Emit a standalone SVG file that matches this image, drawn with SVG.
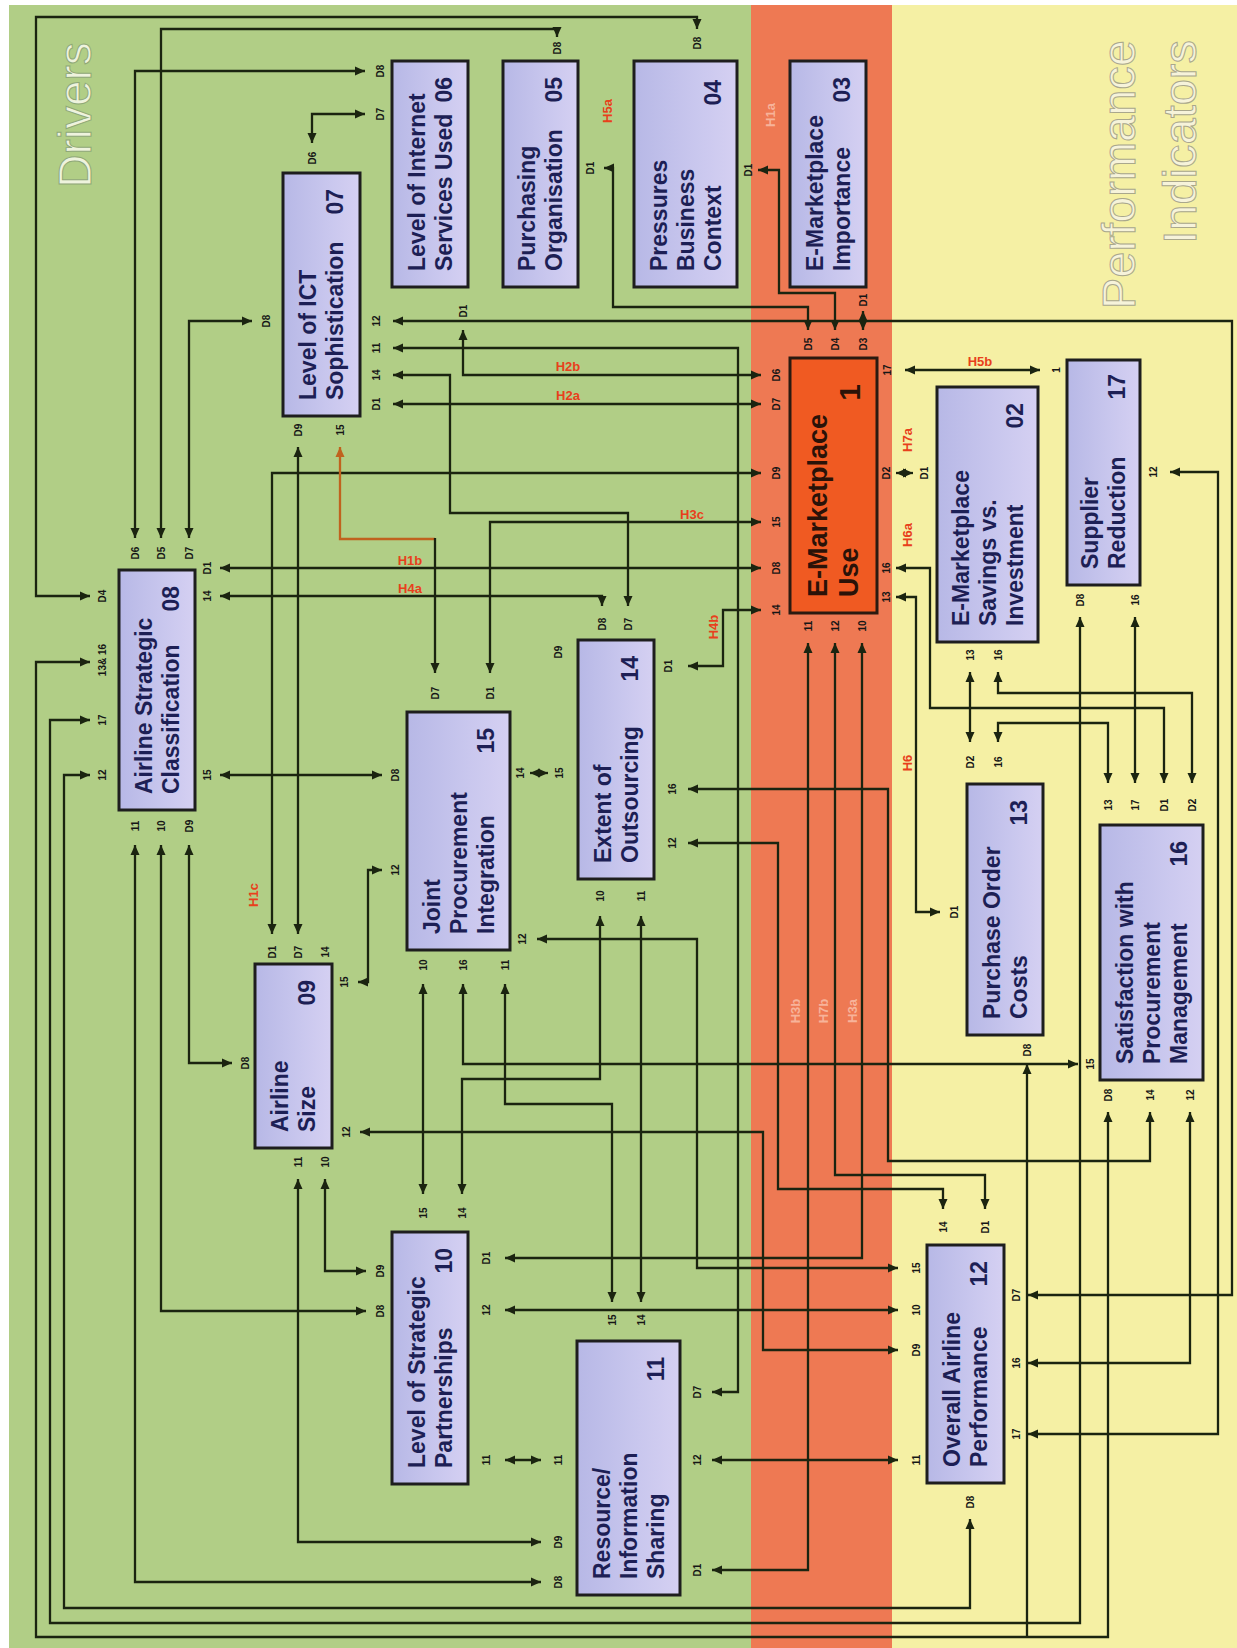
<svg xmlns="http://www.w3.org/2000/svg" width="1237" height="1648" viewBox="0 0 1237 1648">
<style>
.bgG{fill:#b1ce86}.bgO{fill:#ee7953}.bgY{fill:#f5f0a4}
.box{fill:url(#lav);stroke:#1e1e1e;stroke-width:3}
.boxR{fill:#f05a22;stroke:#2a1a10;stroke-width:3}
.t{font-family:"Liberation Sans",Arial,sans-serif;font-weight:bold;font-size:23px;fill:#1d1f55;dominant-baseline:central}
.tr{font-family:"Liberation Sans",Arial,sans-serif;font-weight:bold;font-size:27px;fill:#2a1208;dominant-baseline:central}
.e{text-anchor:end}
.p{font-family:"Liberation Sans",Arial,sans-serif;font-weight:bold;font-size:10px;fill:#161616;text-anchor:middle;dominant-baseline:central}
.h{font-family:"Liberation Sans",Arial,sans-serif;font-weight:bold;font-size:13px;fill:#e8401c;text-anchor:middle}
.hr{font-family:"Liberation Sans",Arial,sans-serif;font-weight:bold;font-size:13px;fill:#e8401c;text-anchor:middle;dominant-baseline:central}
.hp{fill:#f7b39a}
.big{font-family:"Liberation Sans",Arial,sans-serif;font-size:46px;fill:#eef3dd;stroke:#8fa877;stroke-width:1}
.bigY{font-family:"Liberation Sans",Arial,sans-serif;font-size:47px;fill:#f6f3da;stroke:#a9a78c;stroke-width:1}
.c{fill:none;stroke:#1b2410;stroke-width:2.3;marker-start:url(#ah);marker-end:url(#ah)}
.c1{fill:none;stroke:#1b2410;stroke-width:2.3;marker-end:url(#ah)}
.co{fill:none;stroke:#c0621e;stroke-width:2.3;marker-start:url(#aho)}
</style>
<defs>
<linearGradient id="lav" x1="0" y1="0" x2="1" y2="0">
<stop offset="0" stop-color="#b7b8e6"/><stop offset="0.6" stop-color="#c9c7ee"/><stop offset="1" stop-color="#d5d0f2"/>
</linearGradient>
<marker id="ah" viewBox="0 0 10 10" refX="10" refY="5" markerWidth="10" markerHeight="10" markerUnits="userSpaceOnUse" orient="auto-start-reverse"><path d="M0,0.5 L10,5 L0,9.5 z" fill="#1b2410"/></marker>
<marker id="aho" viewBox="0 0 10 10" refX="10" refY="5" markerWidth="10" markerHeight="10" markerUnits="userSpaceOnUse" orient="auto-start-reverse"><path d="M0,0.5 L10,5 L0,9.5 z" fill="#c0621e"/></marker>
</defs>

<g id="background">
<rect x="0" y="0" width="1237" height="1648" fill="#ffffff"/>
<rect class="bgG" x="9" y="5" width="742" height="1643"/>
<rect class="bgO" x="751" y="5" width="141" height="1643"/>
<rect class="bgY" x="892" y="5" width="345" height="1643"/>
<text class="big" text-anchor="middle" transform="rotate(-90 91 115)" x="91" y="115">Drivers</text>
<text class="bigY" text-anchor="end" transform="rotate(-90 1135 40)" x="1135" y="40">Performance</text>
<text class="bigY" text-anchor="end" transform="rotate(-90 1196 40)" x="1196" y="40">Indicators</text>
</g>

<g id="connectors">
<path class="c" d="M90,596 H36 V17 H697 V29"/>
<path class="c" d="M161,538 V29 H557 V37"/>
<path class="c" d="M135,538 V71 H365"/>
<path class="c" d="M312,143 V114 H365"/>
<path class="c" d="M189,538 V321 H252"/>
<path class="c" d="M393,321 H1232 V1295 H1028"/>
<path class="c" d="M393,348 H738 V1392 H712"/>
<path class="c" d="M393,375 H450 V513 H628 V606"/>
<path class="c" d="M393,404 H761"/>
<path class="c" d="M463,330 V375 H761"/>
<path class="c" d="M761,473 H272 V934"/>
<path class="c" d="M298,447 V934"/>
<path class="co" d="M340,447 V539 H435"/>
<path class="c1" d="M435,538 V673"/>
<path class="c" d="M220,568 H761"/>
<path class="c" d="M220,596 H602 V606"/>
<path class="c" d="M220,775 H382"/>
<path class="c" d="M189,845 V1063 H232"/>
<path class="c" d="M161,845 V1311 H366"/>
<path class="c" d="M135,845 V1582 H541"/>
<path class="c" d="M298,1179 V1542 H541"/>
<path class="c" d="M325,1179 V1271 H366"/>
<path class="c" d="M360,1132 H763 V1350 H898"/>
<path class="c" d="M358,982 H368 V870 H382"/>
<path class="c" d="M761,522 H490 V673"/>
<path class="c" d="M761,610 H723 V666 H688"/>
<path class="c" d="M530,773 H548"/>
<path class="c" d="M537,939 H697 V1268 H898"/>
<path class="c" d="M423,984 V1194"/>
<path class="c" d="M463,984 V1064 H1078"/>
<path class="c" d="M505,984 V1104 H612 V1302"/>
<path class="c" d="M600,916 V1079 H462 V1194"/>
<path class="c" d="M641,916 V1302"/>
<path class="c" d="M688,789 H888 V1161 H1150 V1112"/>
<path class="c" d="M688,843 H778 V1189 H943 V1209"/>
<path class="c" d="M808,643 V1570 H712"/>
<path class="c" d="M835,643 V1175 H985 V1209"/>
<path class="c" d="M862,643 V1258 H505"/>
<path class="c" d="M505,1310 H898"/>
<path class="c" d="M712,1460 H898"/>
<path class="c" d="M505,1460 H541"/>
<path class="c" d="M90,775 H64 V1608 H970 V1519"/>
<path class="c" d="M90,720 H50 V1623 H1080 V617"/>
<path class="c" d="M90,662 H36 V1637 H1108 V1112"/>
<path class="c1" d="M1027,1637 V1064"/>
<path class="c" d="M1190,1112 V1363 H1028"/>
<path class="c" d="M905,370 H1040"/>
<path class="c" d="M896,473 H913"/>
<path class="c" d="M896,568 H930 V708 H1164 V783"/>
<path class="c" d="M896,597 H916 V912 H940"/>
<path class="c" d="M970,672 V742"/>
<path class="c" d="M998,672 V693 H1192 V783"/>
<path class="c" d="M998,742 V723 H1108 V783"/>
<path class="c" d="M1135,617 V783"/>
<path class="c" d="M1170,472 H1218 V1434 H1028"/>
<path class="c" d="M758,170 H779 V293 H835 V330"/>
<path class="c" d="M604,168 H613 V307 H808 V330"/>
<path class="c" d="M863,311 V330"/>
</g>

<g id="n06"><rect class="box" x="392" y="61" width="76" height="226"/>
<text class="t" x="416.5" y="271" transform="rotate(-90 416.5 271)">Level of Internet</text>
<text class="t" x="443.5" y="271" transform="rotate(-90 443.5 271)">Services Used</text>
<text class="t e" x="443.5" y="77" transform="rotate(-90 443.5 77)">06</text></g>
<g id="n05"><rect class="box" x="503" y="61" width="75" height="226"/>
<text class="t" x="527" y="271" transform="rotate(-90 527 271)">Purchasing</text>
<text class="t" x="554" y="271" transform="rotate(-90 554 271)">Organisation</text>
<text class="t e" x="554" y="77" transform="rotate(-90 554 77)">05</text></g>
<g id="n04"><rect class="box" x="634" y="61" width="103" height="226"/>
<text class="t" x="658.5" y="271" transform="rotate(-90 658.5 271)">Pressures</text>
<text class="t" x="685.5" y="271" transform="rotate(-90 685.5 271)">Business</text>
<text class="t" x="712.5" y="271" transform="rotate(-90 712.5 271)">Context</text>
<text class="t e" x="712.5" y="80" transform="rotate(-90 712.5 80)">04</text></g>
<g id="n03"><rect class="box" x="790" y="61" width="76" height="226"/>
<text class="t" x="814.5" y="271" transform="rotate(-90 814.5 271)">E-Marketplace</text>
<text class="t" x="841.5" y="271" transform="rotate(-90 841.5 271)">Importance</text>
<text class="t e" x="841.5" y="77" transform="rotate(-90 841.5 77)">03</text></g>
<g id="n07"><rect class="box" x="283" y="173" width="77" height="243"/>
<text class="t" x="308" y="400" transform="rotate(-90 308 400)">Level of ICT</text>
<text class="t" x="335" y="400" transform="rotate(-90 335 400)">Sophistication</text>
<text class="t e" x="335" y="189" transform="rotate(-90 335 189)">07</text></g>
<g id="n01"><rect class="boxR" x="790" y="358" width="87" height="255"/>
<text class="tr" x="818" y="597" transform="rotate(-90 818 597)">E-Marketplace</text>
<text class="tr" x="849" y="597" transform="rotate(-90 849 597)">Use</text>
<text class="tr e" style="font-size:30px" x="849" y="384" transform="rotate(-90 849 384)">1</text></g>
<g id="n02"><rect class="box" x="937" y="387" width="101" height="255"/>
<text class="t" x="960.5" y="626" transform="rotate(-90 960.5 626)">E-Marketplace</text>
<text class="t" x="987.5" y="626" transform="rotate(-90 987.5 626)">Savings vs.</text>
<text class="t" x="1014.5" y="626" transform="rotate(-90 1014.5 626)">Investment</text>
<text class="t e" x="1014.5" y="403" transform="rotate(-90 1014.5 403)">02</text></g>
<g id="n17"><rect class="box" x="1067" y="360" width="73" height="225"/>
<text class="t" x="1090" y="569" transform="rotate(-90 1090 569)">Supplier</text>
<text class="t" x="1117" y="569" transform="rotate(-90 1117 569)">Reduction</text>
<text class="t e" x="1117" y="374" transform="rotate(-90 1117 374)">17</text></g>
<g id="n08"><rect class="box" x="119" y="570" width="76" height="240"/>
<text class="t" x="143.5" y="794" transform="rotate(-90 143.5 794)">Airline Strategic</text>
<text class="t" x="170.5" y="794" transform="rotate(-90 170.5 794)">Classification</text>
<text class="t e" x="170.5" y="586" transform="rotate(-90 170.5 586)">08</text></g>
<g id="n15"><rect class="box" x="407" y="712" width="103" height="238"/>
<text class="t" x="431.5" y="934" transform="rotate(-90 431.5 934)">Joint</text>
<text class="t" x="458.5" y="934" transform="rotate(-90 458.5 934)">Procurement</text>
<text class="t" x="485.5" y="934" transform="rotate(-90 485.5 934)">Integration</text>
<text class="t e" x="485.5" y="728" transform="rotate(-90 485.5 728)">15</text></g>
<g id="n14"><rect class="box" x="578" y="640" width="76" height="239"/>
<text class="t" x="602.5" y="863" transform="rotate(-90 602.5 863)">Extent of</text>
<text class="t" x="629.5" y="863" transform="rotate(-90 629.5 863)">Outsourcing</text>
<text class="t e" x="629.5" y="656" transform="rotate(-90 629.5 656)">14</text></g>
<g id="n13"><rect class="box" x="967" y="784" width="76" height="251"/>
<text class="t" x="991.5" y="1019" transform="rotate(-90 991.5 1019)">Purchase Order</text>
<text class="t" x="1018.5" y="1019" transform="rotate(-90 1018.5 1019)">Costs</text>
<text class="t e" x="1018.5" y="800" transform="rotate(-90 1018.5 800)">13</text></g>
<g id="n16"><rect class="box" x="1100" y="825" width="103" height="255"/>
<text class="t" x="1124.5" y="1064" transform="rotate(-90 1124.5 1064)">Satisfaction with</text>
<text class="t" x="1151.5" y="1064" transform="rotate(-90 1151.5 1064)">Procurement</text>
<text class="t" x="1178.5" y="1064" transform="rotate(-90 1178.5 1064)">Management</text>
<text class="t e" x="1178.5" y="841" transform="rotate(-90 1178.5 841)">16</text></g>
<g id="n09"><rect class="box" x="255" y="964" width="77" height="184"/>
<text class="t" x="280" y="1132" transform="rotate(-90 280 1132)">Airline</text>
<text class="t" x="307" y="1132" transform="rotate(-90 307 1132)">Size</text>
<text class="t e" x="307" y="980" transform="rotate(-90 307 980)">09</text></g>
<g id="n10"><rect class="box" x="392" y="1232" width="76" height="252"/>
<text class="t" x="416.5" y="1468" transform="rotate(-90 416.5 1468)">Level of Strategic</text>
<text class="t" x="443.5" y="1468" transform="rotate(-90 443.5 1468)">Partnerships</text>
<text class="t e" x="443.5" y="1248" transform="rotate(-90 443.5 1248)">10</text></g>
<g id="n11"><rect class="box" x="577" y="1341" width="103" height="254"/>
<text class="t" x="601.5" y="1579" transform="rotate(-90 601.5 1579)">Resource/</text>
<text class="t" x="628.5" y="1579" transform="rotate(-90 628.5 1579)">Information</text>
<text class="t" x="655.5" y="1579" transform="rotate(-90 655.5 1579)">Sharing</text>
<text class="t e" x="655.5" y="1357" transform="rotate(-90 655.5 1357)">11</text></g>
<g id="n12"><rect class="box" x="927" y="1245" width="77" height="238"/>
<text class="t" x="952" y="1467" transform="rotate(-90 952 1467)">Overall Airline</text>
<text class="t" x="979" y="1467" transform="rotate(-90 979 1467)">Performance</text>
<text class="t e" x="979" y="1261" transform="rotate(-90 979 1261)">12</text></g>

<g id="port-labels">
<text class="p" x="135" y="553" transform="rotate(-90 135 553)">D6</text>
<text class="p" x="161" y="553" transform="rotate(-90 161 553)">D5</text>
<text class="p" x="189" y="553" transform="rotate(-90 189 553)">D7</text>
<text class="p" x="102" y="596" transform="rotate(-90 102 596)">D4</text>
<text class="p" x="102" y="660" transform="rotate(-90 102 660)">13&amp; 16</text>
<text class="p" x="102" y="720" transform="rotate(-90 102 720)">17</text>
<text class="p" x="102" y="775" transform="rotate(-90 102 775)">12</text>
<text class="p" x="207" y="568" transform="rotate(-90 207 568)">D1</text>
<text class="p" x="207" y="596" transform="rotate(-90 207 596)">14</text>
<text class="p" x="207" y="775" transform="rotate(-90 207 775)">15</text>
<text class="p" x="135" y="826" transform="rotate(-90 135 826)">11</text>
<text class="p" x="161" y="826" transform="rotate(-90 161 826)">10</text>
<text class="p" x="189" y="826" transform="rotate(-90 189 826)">D9</text>
<text class="p" x="380" y="71" transform="rotate(-90 380 71)">D8</text>
<text class="p" x="380" y="114" transform="rotate(-90 380 114)">D7</text>
<text class="p" x="463" y="311" transform="rotate(-90 463 311)">D1</text>
<text class="p" x="312" y="158" transform="rotate(-90 312 158)">D6</text>
<text class="p" x="266" y="321" transform="rotate(-90 266 321)">D8</text>
<text class="p" x="376" y="321" transform="rotate(-90 376 321)">12</text>
<text class="p" x="376" y="348" transform="rotate(-90 376 348)">11</text>
<text class="p" x="376" y="375" transform="rotate(-90 376 375)">14</text>
<text class="p" x="376" y="404" transform="rotate(-90 376 404)">D1</text>
<text class="p" x="298" y="430" transform="rotate(-90 298 430)">D9</text>
<text class="p" x="340" y="430" transform="rotate(-90 340 430)">15</text>
<text class="p" x="557" y="48" transform="rotate(-90 557 48)">D8</text>
<text class="p" x="590" y="168" transform="rotate(-90 590 168)">D1</text>
<text class="p" x="697" y="43" transform="rotate(-90 697 43)">D8</text>
<text class="p" x="748" y="170" transform="rotate(-90 748 170)">D1</text>
<text class="p" x="863" y="300" transform="rotate(-90 863 300)">D1</text>
<text class="p" x="808" y="344" transform="rotate(-90 808 344)">D5</text>
<text class="p" x="835" y="344" transform="rotate(-90 835 344)">D4</text>
<text class="p" x="863" y="344" transform="rotate(-90 863 344)">D3</text>
<text class="p" x="776" y="375" transform="rotate(-90 776 375)">D6</text>
<text class="p" x="776" y="404" transform="rotate(-90 776 404)">D7</text>
<text class="p" x="776" y="473" transform="rotate(-90 776 473)">D9</text>
<text class="p" x="776" y="522" transform="rotate(-90 776 522)">15</text>
<text class="p" x="776" y="568" transform="rotate(-90 776 568)">D8</text>
<text class="p" x="776" y="610" transform="rotate(-90 776 610)">14</text>
<text class="p" x="887" y="370" transform="rotate(-90 887 370)">17</text>
<text class="p" x="886" y="473" transform="rotate(-90 886 473)">D2</text>
<text class="p" x="886" y="568" transform="rotate(-90 886 568)">16</text>
<text class="p" x="886" y="597" transform="rotate(-90 886 597)">13</text>
<text class="p" x="808" y="626" transform="rotate(-90 808 626)">11</text>
<text class="p" x="835" y="626" transform="rotate(-90 835 626)">12</text>
<text class="p" x="862" y="626" transform="rotate(-90 862 626)">10</text>
<text class="p" x="924" y="473" transform="rotate(-90 924 473)">D1</text>
<text class="p" x="970" y="655" transform="rotate(-90 970 655)">13</text>
<text class="p" x="998" y="655" transform="rotate(-90 998 655)">16</text>
<text class="p" x="1056" y="370" transform="rotate(-90 1056 370)">1</text>
<text class="p" x="1153" y="472" transform="rotate(-90 1153 472)">12</text>
<text class="p" x="1080" y="600" transform="rotate(-90 1080 600)">D8</text>
<text class="p" x="1135" y="600" transform="rotate(-90 1135 600)">16</text>
<text class="p" x="970" y="762" transform="rotate(-90 970 762)">D2</text>
<text class="p" x="998" y="762" transform="rotate(-90 998 762)">16</text>
<text class="p" x="954" y="912" transform="rotate(-90 954 912)">D1</text>
<text class="p" x="1027" y="1050" transform="rotate(-90 1027 1050)">D8</text>
<text class="p" x="1108" y="805" transform="rotate(-90 1108 805)">13</text>
<text class="p" x="1135" y="805" transform="rotate(-90 1135 805)">17</text>
<text class="p" x="1164" y="805" transform="rotate(-90 1164 805)">D1</text>
<text class="p" x="1192" y="805" transform="rotate(-90 1192 805)">D2</text>
<text class="p" x="1090" y="1064" transform="rotate(-90 1090 1064)">15</text>
<text class="p" x="1108" y="1095" transform="rotate(-90 1108 1095)">D8</text>
<text class="p" x="1150" y="1095" transform="rotate(-90 1150 1095)">14</text>
<text class="p" x="1190" y="1095" transform="rotate(-90 1190 1095)">12</text>
<text class="p" x="435" y="693" transform="rotate(-90 435 693)">D7</text>
<text class="p" x="490" y="693" transform="rotate(-90 490 693)">D1</text>
<text class="p" x="395" y="775" transform="rotate(-90 395 775)">D8</text>
<text class="p" x="395" y="870" transform="rotate(-90 395 870)">12</text>
<text class="p" x="520" y="773" transform="rotate(-90 520 773)">14</text>
<text class="p" x="522" y="939" transform="rotate(-90 522 939)">12</text>
<text class="p" x="423" y="965" transform="rotate(-90 423 965)">10</text>
<text class="p" x="463" y="965" transform="rotate(-90 463 965)">16</text>
<text class="p" x="505" y="965" transform="rotate(-90 505 965)">11</text>
<text class="p" x="602" y="624" transform="rotate(-90 602 624)">D8</text>
<text class="p" x="628" y="624" transform="rotate(-90 628 624)">D7</text>
<text class="p" x="558" y="652" transform="rotate(-90 558 652)">D9</text>
<text class="p" x="559" y="773" transform="rotate(-90 559 773)">15</text>
<text class="p" x="668" y="666" transform="rotate(-90 668 666)">D1</text>
<text class="p" x="672" y="789" transform="rotate(-90 672 789)">16</text>
<text class="p" x="672" y="843" transform="rotate(-90 672 843)">12</text>
<text class="p" x="600" y="896" transform="rotate(-90 600 896)">10</text>
<text class="p" x="641" y="896" transform="rotate(-90 641 896)">11</text>
<text class="p" x="272" y="952" transform="rotate(-90 272 952)">D1</text>
<text class="p" x="298" y="952" transform="rotate(-90 298 952)">D7</text>
<text class="p" x="325" y="952" transform="rotate(-90 325 952)">14</text>
<text class="p" x="245" y="1063" transform="rotate(-90 245 1063)">D8</text>
<text class="p" x="344" y="982" transform="rotate(-90 344 982)">15</text>
<text class="p" x="346" y="1132" transform="rotate(-90 346 1132)">12</text>
<text class="p" x="298" y="1162" transform="rotate(-90 298 1162)">11</text>
<text class="p" x="325" y="1162" transform="rotate(-90 325 1162)">10</text>
<text class="p" x="423" y="1213" transform="rotate(-90 423 1213)">15</text>
<text class="p" x="462" y="1213" transform="rotate(-90 462 1213)">14</text>
<text class="p" x="380" y="1271" transform="rotate(-90 380 1271)">D9</text>
<text class="p" x="380" y="1311" transform="rotate(-90 380 1311)">D8</text>
<text class="p" x="486" y="1258" transform="rotate(-90 486 1258)">D1</text>
<text class="p" x="486" y="1310" transform="rotate(-90 486 1310)">12</text>
<text class="p" x="486" y="1460" transform="rotate(-90 486 1460)">11</text>
<text class="p" x="612" y="1320" transform="rotate(-90 612 1320)">15</text>
<text class="p" x="641" y="1320" transform="rotate(-90 641 1320)">14</text>
<text class="p" x="558" y="1460" transform="rotate(-90 558 1460)">11</text>
<text class="p" x="558" y="1542" transform="rotate(-90 558 1542)">D9</text>
<text class="p" x="558" y="1582" transform="rotate(-90 558 1582)">D8</text>
<text class="p" x="697" y="1392" transform="rotate(-90 697 1392)">D7</text>
<text class="p" x="697" y="1460" transform="rotate(-90 697 1460)">12</text>
<text class="p" x="697" y="1570" transform="rotate(-90 697 1570)">D1</text>
<text class="p" x="943" y="1227" transform="rotate(-90 943 1227)">14</text>
<text class="p" x="985" y="1227" transform="rotate(-90 985 1227)">D1</text>
<text class="p" x="916" y="1268" transform="rotate(-90 916 1268)">15</text>
<text class="p" x="916" y="1310" transform="rotate(-90 916 1310)">10</text>
<text class="p" x="916" y="1350" transform="rotate(-90 916 1350)">D9</text>
<text class="p" x="916" y="1460" transform="rotate(-90 916 1460)">11</text>
<text class="p" x="1016" y="1295" transform="rotate(-90 1016 1295)">D7</text>
<text class="p" x="1016" y="1363" transform="rotate(-90 1016 1363)">16</text>
<text class="p" x="1016" y="1434" transform="rotate(-90 1016 1434)">17</text>
<text class="p" x="970" y="1502" transform="rotate(-90 970 1502)">D8</text>
</g>

<g id="hypothesis-labels">
<text class="h" x="568" y="371">H2b</text>
<text class="h" x="568" y="400">H2a</text>
<text class="h" x="692" y="519">H3c</text>
<text class="h" x="410" y="565">H1b</text>
<text class="h" x="410" y="593">H4a</text>
<text class="h" x="980" y="366">H5b</text>
<text class="hr" x="607" y="111" transform="rotate(-90 607 111)">H5a</text>
<text class="hr hp" x="770" y="115" transform="rotate(-90 770 115)">H1a</text>
<text class="hr" x="907" y="440" transform="rotate(-90 907 440)">H7a</text>
<text class="hr" x="907" y="535" transform="rotate(-90 907 535)">H6a</text>
<text class="hr" x="907" y="763" transform="rotate(-90 907 763)">H6</text>
<text class="hr" x="713" y="627" transform="rotate(-90 713 627)">H4b</text>
<text class="hr" x="253" y="895" transform="rotate(-90 253 895)">H1c</text>
<text class="hr hp" x="795" y="1011" transform="rotate(-90 795 1011)">H3b</text>
<text class="hr hp" x="823" y="1011" transform="rotate(-90 823 1011)">H7b</text>
<text class="hr hp" x="852" y="1011" transform="rotate(-90 852 1011)">H3a</text>
</g>
</svg>
